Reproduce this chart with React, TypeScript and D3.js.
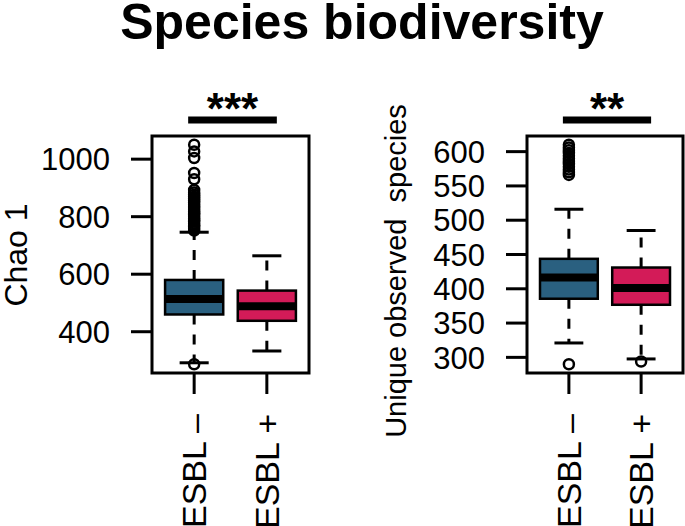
import React from "react";
import * as d3 from "d3";

const W = 685;
const H = 526;

const groups = ["ESBL \u2013", "ESBL +"];
const fills = ["#2a6080", "#d31b58"];

// Chao 1 panel
const chaoQ1 = [460, 438];
const chaoMed = [514, 489];
const chaoQ3 = [580, 543];
const chaoLo = [292, 333];
const chaoHi = [746, 664];
const chaoOutNeg = [287, 752, 758, 764, 770, 776, 782, 788, 794, 800, 806, 812, 818, 824, 830, 836, 842, 848, 855, 862, 869, 876, 884, 893, 930, 952, 1004, 1027, 1050];
const chaoOutPos: number[] = [];
const chaoTicks = [400, 600, 800, 1000];

// Unique observed species panel
const obsQ1 = [385.5, 376.7];
const obsMed = [416.5, 401];
const obsQ3 = [443.7, 431];
const obsLo = [321, 297.7];
const obsHi = [516, 485];
const obsOutNeg = [290, 566, 570, 574, 578, 582, 586, 590, 594, 598, 602, 606, 610];
const obsOutPos = [294];
const obsTicks = [300, 350, 400, 450, 500, 550, 600];

const FONT = "'Liberation Sans', Arial, Helvetica, sans-serif";

type PanelProps = {
  left: number;
  right: number;
  top: number;
  bottom: number;
  q1: number[];
  med: number[];
  q3: number[];
  lo: number[];
  hi: number[];
  outs: number[][];
  ticks: number[];
  ylabel: string;
  ylabelX: number;
  ylabelY: number;
  ylabelFs: number;
  sig: string;
};

function Panel(p: PanelProps) {
  const all = [...p.lo, ...p.hi, ...p.outs.flat()];
  const [mn, mx] = d3.extent(all) as [number, number];
  const pad = (mx - mn) * 0.04;
  const y = d3.scaleLinear().domain([mn - pad, mx + pad]).range([p.bottom, p.top]);
  const x = d3.scaleLinear().domain([0.42, 2.58]).range([p.left, p.right]);
  const bw = x(1.4) - x(1);
  const tickFs = 31;
  const xFs = 34;
  const x1 = x(1), x2 = x(2);
  return (
    <g>
      {groups.map((g, i) => {
        const cx = x(i + 1);
        return (
          <g key={g}>
            <line x1={cx} x2={cx} y1={y(p.q3[i])} y2={y(p.hi[i])} stroke="#000" strokeWidth={3} strokeDasharray="10 10" />
            <line x1={cx} x2={cx} y1={y(p.q1[i])} y2={y(p.lo[i])} stroke="#000" strokeWidth={3} strokeDasharray="10 10" />
            <line x1={cx - bw / 2} x2={cx + bw / 2} y1={y(p.hi[i])} y2={y(p.hi[i])} stroke="#000" strokeWidth={3} />
            <line x1={cx - bw / 2} x2={cx + bw / 2} y1={y(p.lo[i])} y2={y(p.lo[i])} stroke="#000" strokeWidth={3} />
            <rect x={cx - bw} width={bw * 2} y={y(p.q3[i])} height={y(p.q1[i]) - y(p.q3[i])} fill={fills[i]} stroke="#000" strokeWidth={2.5} />
            <line x1={cx - bw} x2={cx + bw} y1={y(p.med[i])} y2={y(p.med[i])} stroke="#000" strokeWidth={8} />
            {p.outs[i].map((v, k) => (
              <circle key={k} cx={cx} cy={y(v)} r={5} fill="none" stroke="#000" strokeWidth={2.5} />
            ))}
            <line x1={cx} x2={cx} y1={p.bottom} y2={p.bottom + 21} stroke="#000" strokeWidth={3} />
            <text
              transform={`translate(${cx + xFs * 0.36},414) rotate(-90)`}
              textAnchor="end"
              fontSize={xFs}
              fontFamily={FONT}
            >
              {g}
            </text>
          </g>
        );
      })}
      <rect x={p.left} y={p.top} width={p.right - p.left} height={p.bottom - p.top} fill="none" stroke="#000" strokeWidth={3} />
      {p.ticks.map((t) => (
        <g key={t}>
          <line x1={p.left - 21} x2={p.left} y1={y(t)} y2={y(t)} stroke="#000" strokeWidth={3} />
          <text x={p.left - 42} y={y(t)} dy="0.36em" textAnchor="end" fontSize={tickFs} fontFamily={FONT}>
            {t}
          </text>
        </g>
      ))}
      <text
        transform={`translate(${p.ylabelX},${p.ylabelY}) rotate(-90)`}
        textAnchor="middle"
        fontSize={p.ylabelFs}
        fontFamily={FONT}
        style={{ whiteSpace: "pre" }}
      >
        {p.ylabel}
      </text>
      <line x1={x1 - 6} x2={x2 + 10} y1={120} y2={120} stroke="#000" strokeWidth={7} />
      <text x={(x1 + x2) / 2 + 2} y={124} textAnchor="middle" fontSize={44} fontWeight="bold" fontFamily={FONT}>
        {p.sig}
      </text>
    </g>
  );
}

export default function App() {
  return (
    <svg width={W} height={H} style={{ position: "absolute", left: 0, top: 0, background: "#fff" }}>
      <rect width={W} height={H} fill="#fff" />
      <text x={362} y={39} textAnchor="middle" fontSize={50} fontWeight="bold" fontFamily={FONT}>
        Species biodiversity
      </text>
      <Panel
        left={152}
        right={309}
        top={136}
        bottom={373}
        q1={chaoQ1}
        med={chaoMed}
        q3={chaoQ3}
        lo={chaoLo}
        hi={chaoHi}
        outs={[chaoOutNeg, chaoOutPos]}
        ticks={chaoTicks}
        ylabel="Chao 1"
        ylabelX={27}
        ylabelY={255}
        ylabelFs={32}
        sig="***"
      />
      <Panel
        left={527}
        right={683}
        top={136}
        bottom={373}
        q1={obsQ1}
        med={obsMed}
        q3={obsQ3}
        lo={obsLo}
        hi={obsHi}
        outs={[obsOutNeg, obsOutPos]}
        ticks={obsTicks}
        ylabel="Unique observed  species"
        ylabelX={406}
        ylabelY={271}
        ylabelFs={29}
        sig="**"
      />
    </svg>
  );
}
